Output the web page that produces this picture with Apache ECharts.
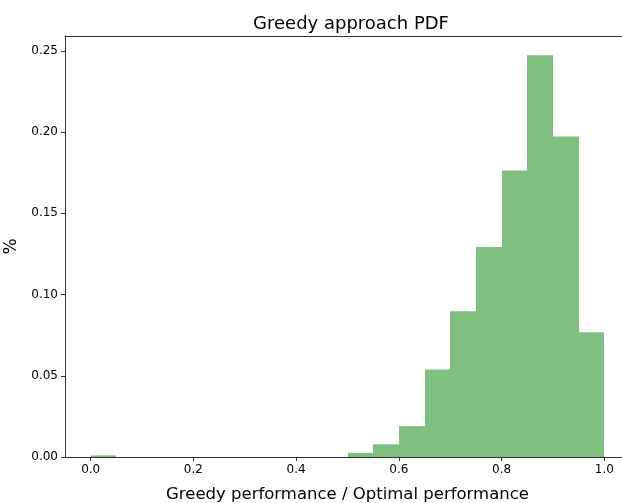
<!DOCTYPE html>
<html>
<head>
<meta charset="utf-8">
<script src="https://cdn.jsdelivr.net/npm/echarts@6/dist/echarts.min.js"></script>
<style>
html,body{margin:0;padding:0;background:#fff;}
#chart{width:622px;height:503px;}
</style>
</head>
<body>
<div id="chart"></div>
<script>
var binStarts = [0.00,0.05,0.10,0.15,0.20,0.25,0.30,0.35,0.40,0.45,0.50,0.55,0.60,0.65,0.70,0.75,0.80,0.85,0.90,0.95];
var binWidth = 0.05;
var fractions = [0.001,0,0,0,0,0,0,0,0,0,0.0025,0.0078,0.019,0.0538,0.0897,0.1293,0.1764,0.2474,0.1973,0.0768];
var xTicks = [0.0,0.2,0.4,0.6,0.8,1.0];
var yTicks = [0.00,0.05,0.10,0.15,0.20,0.25];

var data = binStarts.map(function(s,i){return [s, s+binWidth, fractions[i]];});
var font = 'DejaVu Sans';
var chart = echarts.init(document.getElementById('chart'), null, {renderer:'canvas'});
chart.setOption({
  animation:false,
  backgroundColor:'#fff',
  title:{text:'Greedy approach PDF', left:346, textAlign:'center', top:10,
    textStyle:{fontFamily:font, fontSize:18, fontWeight:'normal', color:'#000'}},
  grid:{left:65, right:-8, top:36, bottom:46, outerBoundsMode:'none', containLabel:false},
  xAxis:[{
    type:'value', min:-0.05, max:1.05, z:5,
    splitLine:{show:false},
    axisLine:{show:true, onZero:false, lineStyle:{color:'#333', width:1}},
    axisTick:{show:true, length:4, lineStyle:{color:'#333'}, customValues:xTicks},
    axisLabel:{customValues:xTicks, formatter:function(v){return v.toFixed(1);},
      fontFamily:font, fontSize:12, color:'#000', margin:7},
    name:'Greedy performance / Optimal performance', nameLocation:'middle', nameGap:29,
    nameTextStyle:{fontFamily:font, fontSize:16.5, color:'#000'}
  },{
    type:'value', position:'top', min:-0.05, max:1.05, z:5,
    splitLine:{show:false}, axisTick:{show:false}, axisLabel:{show:false},
    axisLine:{show:true, onZero:false, lineStyle:{color:'#333', width:1}}
  }],
  yAxis:{
    type:'value', min:0, max:0.2592, z:5,
    splitLine:{show:false},
    axisLine:{show:true, onZero:false, lineStyle:{color:'#333', width:1}},
    axisTick:{show:true, length:4, lineStyle:{color:'#333'}, customValues:yTicks},
    axisLabel:{customValues:yTicks, formatter:function(v){return v.toFixed(2);},
      fontFamily:font, fontSize:12, color:'#000', margin:7},
    name:'%', nameLocation:'middle', nameGap:39, nameRotate:90,
    nameTextStyle:{fontFamily:font, fontSize:17, color:'#000'}
  },
  series:[{
    type:'custom',
    xAxisIndex:0,
    data:data,
    encode:{x:[0,1], y:2},
    renderItem:function(params, api){
      if (!(api.value(2) > 0)) return null;
      var p0 = api.coord([api.value(0), 0]);
      var p1 = api.coord([api.value(1), api.value(2)]);
      var x0 = Math.round(p0[0]), x1 = Math.round(p1[0]);
      return {type:'rect',
        shape:{x:x0, y:p1[1], width:x1-x0, height:p0[1]-p1[1]},
        style:{fill:'#7fbf7f'}};
    }
  }]
});
</script>
</body>
</html>
